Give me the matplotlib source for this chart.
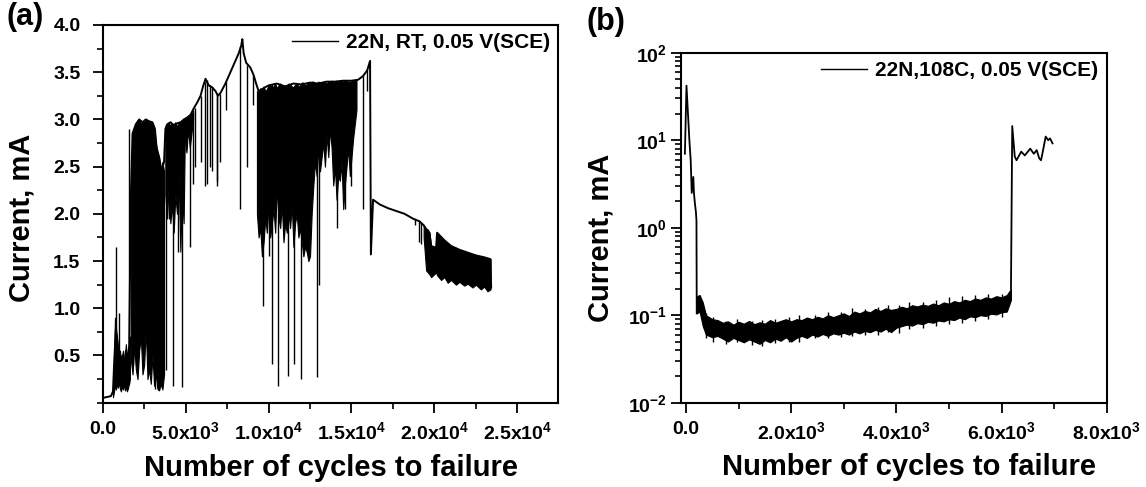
import matplotlib
matplotlib.use("Agg")
import matplotlib.pyplot as plt
from matplotlib.lines import Line2D
from matplotlib.ticker import MultipleLocator

plt.rcParams["font.family"] = ["Liberation Sans", "DejaVu Sans"]
plt.rcParams["font.weight"] = "bold"
plt.rcParams["mathtext.fontset"] = "custom"
plt.rcParams["mathtext.rm"] = "Liberation Sans:bold"
plt.rcParams["mathtext.it"] = "Liberation Sans:bold"
plt.rcParams["mathtext.bf"] = "Liberation Sans:bold"
plt.rcParams["mathtext.sf"] = "Liberation Sans:bold"

# ---- panel (a): 22N, RT ----
a_trace_x = [0, 250, 500, 620, 700, 800, 900, 1000, 1100, 1200,
             1300, 1400, 1500, 1600, 1700, 1800, 2000, 2200, 2400, 2600,
             2800, 3000, 3150, 3250, 3400, 3550, 3700, 3780, 3900, 4100,
             4300, 4500, 4700, 4900, 5100, 5300, 5500, 5700, 5900, 6050,
             6200, 6280, 6400, 6600, 6800, 6950, 7100, 7400, 7700, 8000,
             8200, 8350, 8420, 8500, 8650, 8900, 9100, 9250, 9400, 9700,
             10000, 10500, 11000, 11500, 12000, 12500, 13000, 13500, 14000, 14500,
             15000, 15400, 15700, 15950, 16120, 16170, 16300, 16700, 17200, 17700,
             18200, 18700, 19100, 19350, 19500, 19700, 19800, 20100, 20160, 20600,
             21000, 21500, 22000, 22500, 23000, 23380, 23420]
a_trace_y = [0.05, 0.06, 0.07, 0.12, 0.45, 0.80, 0.60, 0.55, 0.45, 0.50,
             0.40, 0.55, 0.45, 0.60, 2.20, 2.85, 2.95, 3.00, 2.97, 3.00,
             2.98, 2.97, 2.90, 2.70, 2.60, 2.45, 2.55, 2.90, 2.95, 2.97,
             2.93, 2.96, 2.97, 3.00, 3.02, 3.05, 3.12, 3.18, 3.25, 3.35,
             3.43, 3.40, 3.36, 3.34, 3.30, 3.25, 3.28, 3.38, 3.50, 3.62,
             3.70, 3.78, 3.85, 3.70, 3.60, 3.55, 3.47, 3.38, 3.30, 3.33,
             3.36, 3.38, 3.35, 3.38, 3.37, 3.39, 3.38, 3.40, 3.40, 3.41,
             3.41, 3.42, 3.46, 3.52, 3.62, 1.57, 2.15, 2.10, 2.06, 2.03,
             2.00, 1.95, 1.92, 1.88, 1.84, 1.80, 1.66, 1.64, 1.80, 1.72,
             1.66, 1.62, 1.59, 1.56, 1.54, 1.52, 1.22]

# dense noisy stretches: x, lower edge, upper edge
a_band1_x = [620, 680, 740, 800, 860, 920, 980, 1040, 1100, 1160, 1220, 1280, 1340, 1400, 1460, 1520, 1580, 1640]
a_band1_hi = [0.10, 0.40, 0.90, 0.75, 0.70, 0.60, 0.50, 0.55, 0.45, 0.48, 0.55, 0.42, 0.50, 0.62, 0.45, 0.55, 0.60, 0.70]
a_band1_lo = [0.06, 0.12, 0.18, 0.14, 0.20, 0.16, 0.22, 0.15, 0.12, 0.18, 0.14, 0.20, 0.13, 0.17, 0.12, 0.15, 0.20, 0.25]

a_band2_x = [1700, 1800, 1900, 2000, 2100, 2200, 2300, 2400, 2500, 2600, 2700,
             2800, 2900, 3000, 3100, 3200, 3300, 3400, 3500, 3600, 3700]
a_band2_hi = [2.20, 2.85, 2.92, 2.95, 2.97, 3.00, 2.95, 2.98, 2.97, 3.00, 2.98,
              2.97, 2.98, 2.95, 2.90, 2.75, 2.65, 2.60, 2.45, 2.55, 2.45]
a_band2_lo = [0.45, 0.30, 0.60, 0.35, 0.25, 0.55, 0.70, 0.30, 0.40, 0.80, 0.25,
              0.35, 0.20, 0.50, 0.18, 0.30, 0.15, 0.13, 0.20, 0.14, 0.30]

a_band3_x = [3780, 3880, 3980, 4080, 4180, 4280, 4380, 4480, 4580, 4680, 4780, 4880, 4950]
a_band3_hi = [2.90, 2.95, 2.97, 2.93, 2.96, 2.95, 2.97, 2.92, 2.96, 2.97, 2.98, 3.00, 3.00]
a_band3_lo = [2.20, 1.95, 2.30, 1.90, 2.10, 1.80, 2.20, 2.00, 2.40, 1.60, 2.20, 1.90, 2.80]

a_band6_x = [4950, 5050, 5150, 5250, 5350, 5450]
a_band6_hi = [3.00, 3.02, 3.03, 3.05, 3.06, 3.08]
a_band6_lo = [2.80, 2.65, 2.90, 2.70, 2.85, 3.00]

a_band4_x = [9300, 9400, 9500, 9600, 9700, 9800, 9900, 10000, 10100, 10200,
             10300, 10400, 10500, 10600, 10700, 10800, 10900, 11000, 11100, 11200,
             11300, 11400, 11500, 11600, 11700, 11800, 11900, 12000, 12100, 12200,
             12300, 12400, 12500, 12600, 12700, 12800, 12900, 13000, 13100, 13200,
             13300, 13400, 13500, 13600, 13700, 13800, 13900, 14000, 14100, 14200,
             14300, 14400, 14500, 14600, 14700, 14800, 14900, 15000, 15100, 15200, 15300]
a_band4_hi = [3.30, 3.28, 3.33, 3.31, 3.35, 3.30, 3.32, 3.36, 3.37, 3.33,
              3.35, 3.38, 3.33, 3.36, 3.38, 3.35, 3.36, 3.34, 3.35, 3.38,
              3.37, 3.35, 3.34, 3.37, 3.38, 3.35, 3.36, 3.39, 3.39, 3.36,
              3.37, 3.39, 3.38, 3.40, 3.40, 3.38, 3.38, 3.40, 3.39, 3.38,
              3.40, 3.39, 3.38, 3.40, 3.40, 3.41, 3.39, 3.40, 3.41, 3.40,
              3.40, 3.41, 3.40, 3.41, 3.41, 3.40, 3.40, 3.41, 3.41, 3.42, 3.42]
a_band4_lo = [2.00, 1.75, 1.85, 1.55, 1.70, 1.95, 1.80, 2.10, 1.75, 1.90,
              2.05, 1.80, 2.30, 1.95, 1.85, 2.10, 1.70, 1.90, 1.80, 2.00,
              1.85, 2.10, 1.65, 1.90, 2.00, 1.75, 1.85, 1.70, 1.55, 1.65,
              1.60, 1.50, 1.55, 2.00, 2.30, 2.55, 2.40, 2.70, 2.45, 2.60,
              2.75, 2.50, 2.85, 2.60, 2.90, 2.70, 2.30, 2.50, 2.15, 2.40,
              2.35, 2.55, 2.05, 2.30, 2.50, 2.70, 2.40, 2.60, 2.80, 2.95, 3.10]

a_band5_x = [19350, 19500, 19700, 19800, 20100, 20160, 20400, 20600, 20800, 21000,
             21300, 21500, 21800, 22000, 22300, 22500, 22800, 23000, 23200, 23380]
a_band5_hi = [1.88, 1.84, 1.80, 1.66, 1.64, 1.80, 1.75, 1.72, 1.69, 1.66,
              1.64, 1.62, 1.60, 1.59, 1.57, 1.56, 1.55, 1.54, 1.53, 1.52]
a_band5_lo = [1.75, 1.40, 1.36, 1.33, 1.38, 1.35, 1.30, 1.33, 1.27, 1.30,
              1.25, 1.28, 1.24, 1.26, 1.22, 1.25, 1.20, 1.23, 1.18, 1.20]

# isolated downward spikes: x, bottom, top
a_spike_x = [800, 1000, 1590, 1850, 2050, 2450, 2700, 3150, 3350, 3800,
             4000, 4260, 4550, 4800, 5250, 5460, 5550, 5900, 6150, 6270,
             6500, 6570, 6870, 6900, 7050, 7450, 8280, 8700, 9050, 9690,
             10000, 10190, 10550, 11160, 11540, 11940, 12300, 12900, 13040, 13600,
             14150, 14600, 14950, 15700, 15950, 18850, 19050, 19200, 19600, 20300]
a_spike_lo = [0.20, 0.25, 0.20, 0.40, 0.70, 0.80, 0.60, 0.15, 0.13, 0.35,
              1.95, 0.18, 1.60, 0.17, 1.65, 2.32, 2.50, 2.55, 2.30, 2.32,
              2.50, 2.45, 2.35, 2.30, 2.55, 3.10, 2.05, 2.50, 3.15, 1.02,
              1.55, 0.41, 0.18, 0.28, 0.41, 0.25, 1.60, 0.27, 1.25, 2.85,
              1.85, 2.05, 2.30, 2.05, 3.30, 1.88, 1.70, 1.68, 1.40, 1.35]
a_spike_hi = [1.65, 0.95, 2.90, 2.15, 2.15, 1.70, 2.85, 2.50, 2.60, 2.95,
              2.90, 2.95, 2.95, 2.98, 3.05, 3.10, 3.12, 3.25, 3.40, 3.42,
              3.36, 3.34, 3.28, 3.26, 3.27, 3.40, 3.78, 3.58, 3.47, 3.32,
              3.36, 3.37, 3.34, 3.35, 3.34, 3.36, 3.37, 3.38, 3.39, 3.40,
              3.41, 3.40, 3.40, 3.46, 3.52, 1.95, 1.93, 1.91, 1.84, 1.78]

a_xticks = [0, 5000, 10000, 15000, 20000, 25000]
a_xlabels = ["0.0", "5.0x10$^{3}$", "1.0x10$^{4}$", "1.5x10$^{4}$", "2.0x10$^{4}$", "2.5x10$^{4}$"]
a_yticks = [0.5, 1.0, 1.5, 2.0, 2.5, 3.0, 3.5, 4.0]

# ---- panel (b): 22N, 108C ----
b_head_x = [-20, 10, 45, 65, 90, 110, 140, 152, 170, 190, 200, 205]
b_head_y = [7.0, 42.0, 17.0, 10.0, 5.9, 2.5, 3.8, 2.5, 1.9, 1.5, 1.2, 0.105]

b_band_x = [205, 260, 320, 380, 440, 500, 600, 700, 800, 900,
            1000, 1100, 1200, 1300, 1400, 1500, 1600, 1700, 1800, 1900,
            2000, 2100, 2200, 2300, 2400, 2500, 2600, 2700, 2800, 2900,
            3000, 3100, 3200, 3300, 3400, 3500, 3600, 3700, 3800, 3900,
            4000, 4100, 4200, 4300, 4400, 4500, 4600, 4700, 4800, 4900,
            5000, 5100, 5200, 5300, 5400, 5500, 5600, 5700, 5800, 5900,
            6000, 6100, 6180]
b_band_hi = [0.165, 0.170, 0.140, 0.100, 0.095, 0.090, 0.088, 0.082, 0.085, 0.078,
             0.084, 0.080, 0.086, 0.079, 0.083, 0.080, 0.088, 0.082, 0.086, 0.090,
             0.085, 0.090, 0.088, 0.094, 0.090, 0.096, 0.092, 0.100, 0.095, 0.100,
             0.105, 0.098, 0.110, 0.105, 0.112, 0.108, 0.118, 0.112, 0.120, 0.115,
             0.118, 0.125, 0.120, 0.130, 0.126, 0.132, 0.128, 0.136, 0.130, 0.140,
             0.135, 0.145, 0.140, 0.150, 0.145, 0.155, 0.150, 0.160, 0.155, 0.165,
             0.160, 0.170, 0.200]
b_band_lo = [0.105, 0.110, 0.075, 0.060, 0.058, 0.056, 0.058, 0.054, 0.050, 0.055,
             0.052, 0.049, 0.053, 0.050, 0.047, 0.052, 0.049, 0.054, 0.051, 0.056,
             0.050, 0.055, 0.058, 0.055, 0.060, 0.057, 0.061, 0.058, 0.062, 0.060,
             0.063, 0.060, 0.065, 0.062, 0.066, 0.064, 0.068, 0.065, 0.070, 0.064,
             0.072, 0.075, 0.078, 0.076, 0.081, 0.079, 0.084, 0.082, 0.087, 0.085,
             0.090, 0.088, 0.094, 0.090, 0.097, 0.095, 0.100, 0.098, 0.104, 0.102,
             0.108, 0.110, 0.150]

# noise excursions sticking out of the band
b_spike_x = [380, 520, 760, 980, 1250, 1450, 1700, 1950, 2150, 2450,
             2700, 2950, 3150, 3400, 3650, 3850, 4050, 4250, 4500, 4750,
             5000, 5250, 5500, 5750, 6000]
b_spike_lo = [0.055, 0.050, 0.047, 0.050, 0.046, 0.045, 0.048, 0.050, 0.050, 0.055,
              0.055, 0.056, 0.058, 0.060, 0.060, 0.064, 0.062, 0.070, 0.072, 0.075,
              0.080, 0.082, 0.085, 0.090, 0.095]
b_spike_hi = [0.105, 0.095, 0.085, 0.090, 0.085, 0.088, 0.090, 0.095, 0.100, 0.100,
              0.110, 0.108, 0.120, 0.118, 0.125, 0.130, 0.130, 0.140, 0.140, 0.150,
              0.160, 0.165, 0.170, 0.175, 0.175]

b_tail_x = [6180, 6204, 6252, 6286, 6375, 6443, 6546, 6614, 6669, 6717, 6751, 6785, 6840, 6888, 6922, 6970]
b_tail_y = [0.20, 14.5, 6.5, 5.9, 7.4, 6.7, 8.0, 7.0, 7.7, 6.2, 5.9, 7.4, 11.0, 10.0, 10.5, 9.2]

b_xticks = [0, 2000, 4000, 6000, 8000]
b_xlabels = ["0.0", "2.0x10$^{3}$", "4.0x10$^{3}$", "6.0x10$^{3}$", "8.0x10$^{3}$"]
b_yticks = [0.01, 0.1, 1, 10, 100]
b_ylabels = ["10$^{-2}$", "10$^{-1}$", "10$^{0}$", "10$^{1}$", "10$^{2}$"]


def style_axes(ax):
    for sp in ax.spines.values():
        sp.set_linewidth(1.5)
    ax.tick_params(which="major", direction="out", length=7, width=1.3, labelsize=14,
                   top=False, right=False)
    ax.tick_params(which="minor", direction="out", length=4, width=1.2, top=False, right=False)
    ax.tick_params(axis="x", which="major", pad=6)


def add_legend(ax, text):
    handle = Line2D([], [], color="black", linewidth=1.0)
    ax.legend([handle], [text], loc="upper right", frameon=False, fontsize=15,
              handlelength=2.2, handletextpad=0.4, borderaxespad=0.0, borderpad=0.4)


fig = plt.figure(figsize=(11.46, 4.87), dpi=100)

# panel (a)
ax1 = fig.add_axes([0.0896, 0.1731, 0.3976, 0.7756])
bands = [(a_band1_x, a_band1_lo, a_band1_hi), (a_band2_x, a_band2_lo, a_band2_hi),
         (a_band3_x, a_band3_lo, a_band3_hi), (a_band6_x, a_band6_lo, a_band6_hi),
         (a_band4_x, a_band4_lo, a_band4_hi), (a_band5_x, a_band5_lo, a_band5_hi)]
for bx, blo, bhi in bands:
    ax1.fill_between(bx, blo, bhi, color="black", linewidth=0.8)
ax1.vlines(a_spike_x, a_spike_lo, a_spike_hi, colors="black", linewidth=1.0)
ax1.plot(a_trace_x, a_trace_y, color="black", linewidth=1.4)
ax1.set_xlim(0, 27470)
ax1.set_ylim(0, 4.0)
ax1.set_xticks(a_xticks, labels=a_xlabels)
ax1.set_yticks(a_yticks, labels=[f"{v:.1f}" for v in a_yticks])
ax1.xaxis.set_minor_locator(MultipleLocator(2500))
ax1.yaxis.set_minor_locator(MultipleLocator(0.25))
style_axes(ax1)
ax1.tick_params(axis="y", which="major", pad=9)
ax1.set_xlabel("Number of cycles to failure", fontsize=21, fontweight="bold")
ax1.set_ylabel("Current, mA", fontsize=21, fontweight="bold")
ax1.xaxis.set_label_coords(0.5, -0.135)
ax1.yaxis.set_label_coords(-0.148, 0.49)
add_legend(ax1, "22N, RT, 0.05 V(SCE)")

# panel (b)
ax2 = fig.add_axes([0.5942, 0.1731, 0.3715, 0.7187])
ax2.set_yscale("log")
ax2.fill_between(b_band_x, b_band_lo, b_band_hi, color="black", linewidth=0.8)
ax2.vlines(b_spike_x, b_spike_lo, b_spike_hi, colors="black", linewidth=1.0)
ax2.plot(b_head_x, b_head_y, color="black", linewidth=1.3)
ax2.plot(b_tail_x, b_tail_y, color="black", linewidth=1.3)
ax2.set_xlim(-95, 8000)
ax2.set_ylim(0.01, 100)
ax2.set_xticks(b_xticks, labels=b_xlabels)
ax2.set_yticks(b_yticks, labels=b_ylabels)
ax2.xaxis.set_minor_locator(MultipleLocator(1000))
style_axes(ax2)
ax2.tick_params(axis="y", which="major", pad=3)
ax2.set_xlabel("Number of cycles to failure", fontsize=21, fontweight="bold")
ax2.set_ylabel("Current, mA", fontsize=21, fontweight="bold")
ax2.xaxis.set_label_coords(0.536, -0.145)
ax2.yaxis.set_label_coords(-0.156, 0.47)
add_legend(ax2, "22N,108C, 0.05 V(SCE)")

fig.text(0.006, 0.995, "(a)", fontsize=22, fontweight="bold", va="top", ha="left")
fig.text(0.512, 0.985, "(b)", fontsize=22, fontweight="bold", va="top", ha="left")

fig.savefig("out.png", dpi=100)
